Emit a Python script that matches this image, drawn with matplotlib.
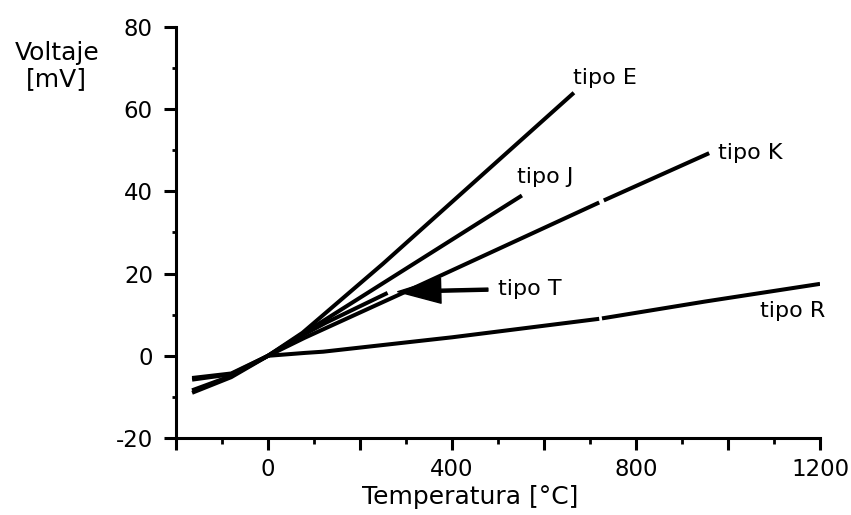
import matplotlib
matplotlib.use("Agg")
import matplotlib.pyplot as plt
import numpy as np
from matplotlib.ticker import MultipleLocator, FixedLocator, FuncFormatter

plt.rcParams['font.family'] = ['DejaVu Sans']
plt.rcParams['axes.unicode_minus'] = False

# thermocouple curves (temperature in C, voltage in mV)
# nan marks the small breaks seen in the drawn lines
temp_E = [-165, -80, 0, 75, 250, 665]
volt_E = [-9.0, -5.2, 0, 5.6, 22.4, 64.0]

temp_J = [-165, -80, 0, 75, 552]
volt_J = [-8.4, -4.9, 0, 5.3, 39.0]

temp_K = [-165, -80, 0, 80, 313, 720, np.nan, 730, 959]
volt_K = [-5.8, -4.5, 0, 4.4, 16.3, 37.3, np.nan, 37.8, 49.3]

temp_T = [-165, -80, 0, 75, 125, 260]
volt_T = [-5.4, -4.3, 0, 5.0, 8.0, 15.3]

temp_R = [0, 80, 120, 400, 720, np.nan, 726, 950, 1200]
volt_R = [0, 0.7, 1.0, 4.5, 9.0, np.nan, 9.1, 13.2, 17.5]

curves = [(temp_E, volt_E), (temp_J, volt_J), (temp_K, volt_K),
          (temp_T, volt_T), (temp_R, volt_R)]

y_ticks = [-20, 0, 20, 40, 60, 80]

fig = plt.figure(figsize=(8.51, 5.15), dpi=100)
ax = fig.add_axes([0.2068, 0.1495, 0.7568, 0.7981])

for t, v in curves:
    ax.plot(t, v, color='black', lw=2.9, solid_capstyle='butt')

ax.set_xlim(-200, 1200)
ax.set_ylim(-20, 80)

ax.spines['top'].set_visible(False)
ax.spines['right'].set_visible(False)
for s in ('left', 'bottom'):
    ax.spines[s].set_linewidth(2.2)

# ticks every 200 (minor 100), labels only every 400
ax.xaxis.set_major_locator(MultipleLocator(200))
ax.xaxis.set_minor_locator(MultipleLocator(100))
ax.xaxis.set_major_formatter(FuncFormatter(
    lambda v, p: f'{v:.0f}' if v % 400 == 0 else ''))
ax.yaxis.set_major_locator(FixedLocator(y_ticks))
ax.yaxis.set_minor_locator(MultipleLocator(10))
ax.tick_params(which='major', length=8.6, width=2.2, direction='out',
               labelsize=16.5)
ax.tick_params(axis='x', which='major', pad=6)
ax.tick_params(axis='y', which='major', pad=8)
ax.tick_params(axis='x', which='minor', length=4.5, width=2.0, direction='out')
ax.tick_params(axis='y', which='minor', length=3, width=2.0, direction='out')

ax.set_xlabel('Temperatura [°C]', fontsize=18)
ax.xaxis.set_label_coords(0.4565, -0.1435)
ax.xaxis.label.set_va('center')

ax.set_ylabel('Voltaje\n[mV]', fontsize=18, rotation=0, ha='center',
              va='center', linespacing=1.15)
ax.yaxis.set_label_coords(-0.185, 0.905)

ax.text(733, 67.6, 'tipo E', fontsize=16, ha='center', va='center')
ax.text(602, 43.4, 'tipo J', fontsize=16, ha='center', va='center')
ax.text(978, 49.3, 'tipo K', fontsize=16, ha='left', va='center')
ax.text(500, 16.3, 'tipo T', fontsize=16, ha='left', va='center')
ax.text(1141, 11.0, 'tipo R', fontsize=16, ha='center', va='center')

ax.annotate('', xy=(282, 15.6), xytext=(478, 16.1),
            arrowprops=dict(facecolor='black', edgecolor='black',
                            width=2.2, headwidth=18, headlength=31,
                            shrink=0))

fig.savefig('out.png', dpi=100)
